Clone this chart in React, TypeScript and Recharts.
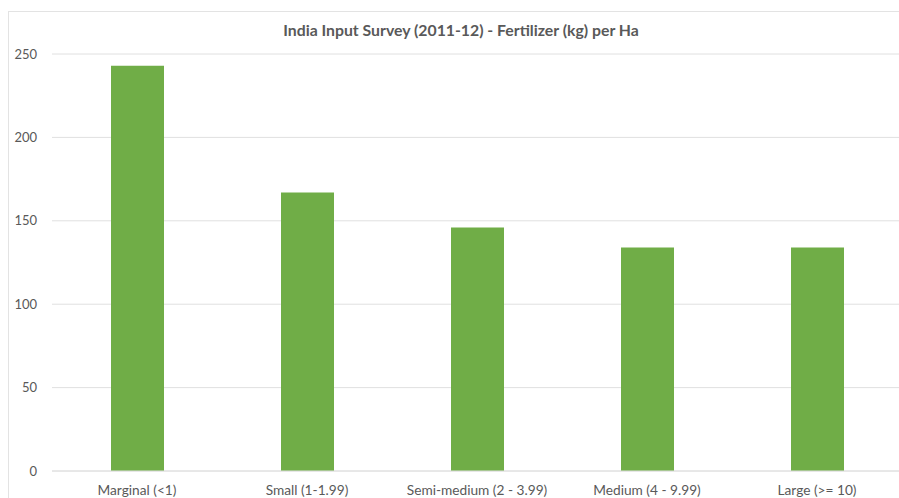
import React from "react";
import { BarChart, Bar, XAxis, YAxis, CartesianGrid } from "recharts";

const categories = [
  "Marginal (<1)",
  "Small (1-1.99)",
  "Semi-medium (2 - 3.99)",
  "Medium (4 - 9.99)",
  "Large (>= 10)",
];
const fertilizerPerHa = [243, 167, 146, 134, 134];
const yTicks = [0, 50, 100, 150, 200, 250];
const title = "India Input Survey (2011-12) - Fertilizer (kg) per Ha";

const data = categories.map((name, i) => ({ name, value: fertilizerPerHa[i] }));

const FONT = "Lato, 'Open Sans', sans-serif";

export default function App() {
  return (
    <div
      style={{
        position: "fixed",
        left: 0,
        top: 0,
        width: 899,
        height: 498,
        overflow: "hidden",
        background: "#ffffff",
        fontFamily: FONT,
      }}
    >
      <div
        style={{
          position: "absolute",
          left: 8,
          top: 11,
          width: 1000,
          height: 600,
          borderLeft: "1px solid #e3e3e3",
          borderTop: "1px solid #e3e3e3",
        }}
      />
      <div style={{ position: "absolute", left: 0, top: 0 }}>
        <BarChart
          width={902}
          height={498}
          data={data}
          margin={{ top: 54, right: 0, bottom: 0, left: 0 }}
        >
          <CartesianGrid vertical={false} stroke="#e0e0e0" />
          <XAxis
            dataKey="name"
            height={27}
            tickLine={false}
            tickSize={0}
            tickMargin={14}
            axisLine={{ stroke: "#e0e0e0" }}
            interval={0}
            tick={{ fill: "#595959", fontSize: 13.7, fontFamily: FONT }}
          />
          <YAxis
            width={52}
            domain={[0, 250]}
            ticks={yTicks}
            tickLine={false}
            axisLine={false}
            tickSize={0}
            tickMargin={15}
            tick={{ fill: "#595959", fontSize: 13, fontFamily: FONT }}
          />
          <Bar dataKey="value" fill="#70AD47" barSize={53} isAnimationActive={false} />
        </BarChart>
      </div>
      <div
        style={{
          position: "absolute",
          left: 461,
          top: 20,
          transform: "translateX(-50%)",
          whiteSpace: "nowrap",
          fontSize: 15.8,
          fontWeight: 700,
          lineHeight: "20px",
          color: "#595959",
          fontFamily: FONT,
        }}
      >
        {title}
      </div>
    </div>
  );
}
